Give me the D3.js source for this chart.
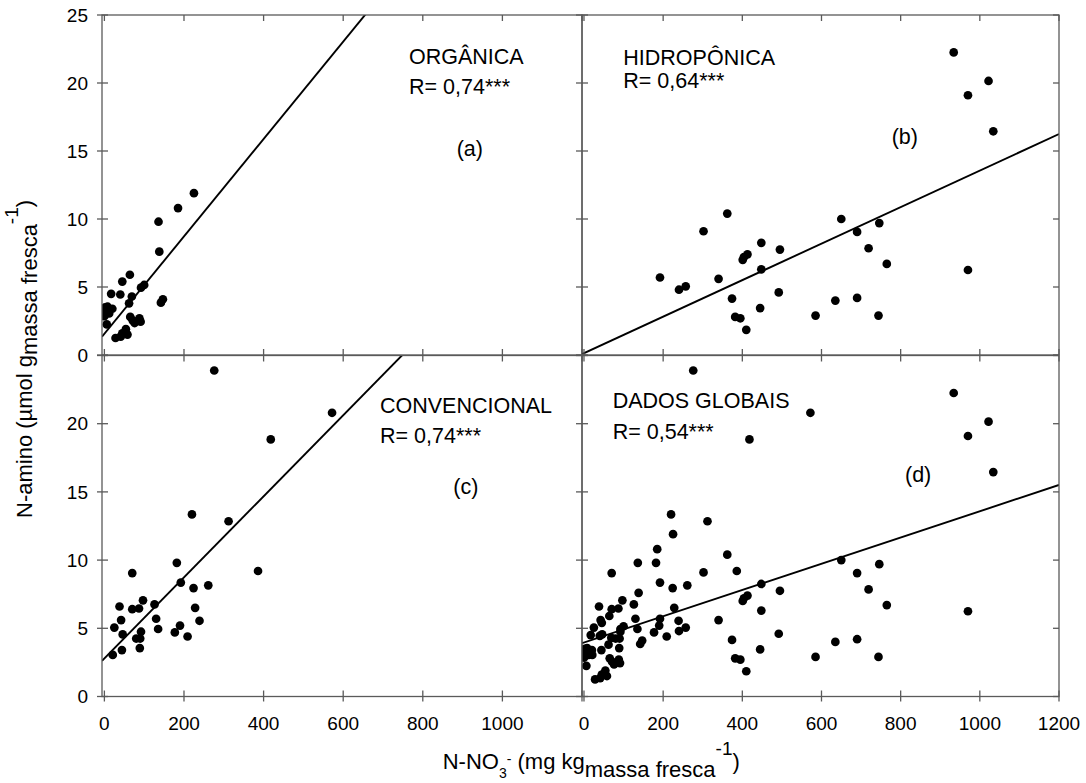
<!DOCTYPE html>
<html>
<head>
<meta charset="utf-8">
<script src="https://cdn.jsdelivr.net/npm/d3@7"></script>
<style>
    body { margin: 0; background: #fff; }
    text { font-family: "Liberation Sans", Arial, sans-serif; fill: #000; }
</style>
</head>
<body>
<svg id="chart" width="1086" height="783"></svg>
<script>
// data: [N-NO3, N-amino]
const organica = [
    [225, 11.9], [185, 10.8], [136, 9.8], [138, 7.6], [64, 5.9], [45, 5.4], [100, 5.15], [92, 4.95],
    [17, 4.5], [40, 4.45], [69, 4.3], [62, 3.8], [147, 4.1], [142, 3.85], [8, 3.55], [20, 3.4],
    [3, 3.2], [12, 3.05], [0, 2.85], [6, 2.25], [65, 2.8], [71, 2.55], [88, 2.7], [91, 2.45],
    [76, 2.35], [54, 1.9], [45, 1.6], [28, 1.25], [41, 1.35], [58, 1.5], [10, 3.35], [2, 3.5]
];
const hidroponica = [
    [934, 22.25], [1022, 20.15], [970, 19.1], [1034, 16.45], [362, 10.4], [650, 10.0], [746, 9.7], [302, 9.1],
    [690, 9.05], [448, 8.25], [719, 7.85], [495, 7.75], [413, 7.4], [404, 7.2], [401, 7.0], [765, 6.7],
    [448, 6.3], [970, 6.25], [192, 5.7], [340, 5.6], [257, 5.05], [240, 4.8], [492, 4.6], [374, 4.15],
    [635, 4.0], [690, 4.2], [445, 3.45], [585, 2.9], [744, 2.9], [382, 2.8], [395, 2.7], [410, 1.85]
];
const convencional = [
    [276, 23.9], [572, 20.8], [418, 18.85], [220, 13.35], [312, 12.85], [182, 9.8], [70, 9.05], [386, 9.2],
    [192, 8.35], [261, 8.15], [224, 7.95], [97, 7.05], [126, 6.75], [38, 6.6], [70, 6.4], [87, 6.45],
    [228, 6.5], [42, 5.6], [130, 5.7], [239, 5.55], [25, 5.05], [135, 4.95], [190, 5.2], [46, 4.55],
    [92, 4.75], [177, 4.7], [209, 4.4], [80, 4.25], [90, 4.25], [44, 3.4], [89, 3.55], [21, 3.05]
];
// global panel = all samples together
const globais = organica.concat(hidroponica, convencional);

const panelNames = ['ORGÂNICA', 'HIDROPÔNICA', 'CONVENCIONAL', 'DADOS GLOBAIS'];
const rTexts = ['R= 0,74***', 'R= 0,64***', 'R= 0,74***', 'R= 0,54***'];
const panelTags = ['(a)', '(b)', '(c)', '(d)'];
// linear fits y = a + b*x
const fitIntercept = [1.56, 0.13, 2.8, 3.96];
const fitSlope = [0.0358, 0.01343, 0.0297, 0.00962];

const yTicks = [0, 5, 10, 15, 20, 25];
const xTicks = [0, 200, 400, 600, 800, 1000, 1200];

// layout of the 4 panels
const panels = [
    { data: organica, left: 102, right: 582, top: 15, bottom: 355, xmin: -6,
      name: [409, 64.3], r: [409, 94], tag: [456.7, 156], col: 0, row: 0 },
    { data: hidroponica, left: 582, right: 1059, top: 15, bottom: 355, xmin: -5,
      name: [623.3, 65], r: [623.3, 88.3], tag: [891.7, 143.5], col: 1, row: 0 },
    { data: convencional, left: 102, right: 582, top: 355.5, bottom: 696.5, xmin: -6,
      name: [380, 413.3], r: [380, 443.3], tag: [453.3, 493.5], col: 0, row: 1 },
    { data: globais, left: 582, right: 1059, top: 355.5, bottom: 696.5, xmin: -5,
      name: [612.7, 408.3], r: [612.7, 439.3], tag: [905, 482], col: 1, row: 1 }
];

const svg = d3.select('#chart');
const axisColor = '#5a5a5a';
const tickIn = 6, tickOut = 5;

panels.forEach((p, i) => {
    const x = d3.scaleLinear().domain([p.xmin, 1200]).range([p.left, p.right]);
    const y = d3.scaleLinear().domain([0, 25]).range([p.bottom, p.top]);

    const clipId = 'clip' + i;
    svg.append('clipPath').attr('id', clipId)
        .append('rect')
        .attr('x', p.left).attr('y', p.top)
        .attr('width', p.right - p.left).attr('height', p.bottom - p.top);

    const g = svg.append('g');

    // regression line
    const line = d3.line()
        .x(d => x(d))
        .y(d => y(fitIntercept[i] + fitSlope[i] * d));
    g.append('path')
        .datum([p.xmin, 1200])
        .attr('clip-path', `url(#${clipId})`)
        .attr('fill', 'none')
        .attr('stroke', '#000')
        .attr('stroke-width', 1.9)
        .attr('d', line);

    // points
    g.append('g')
        .attr('clip-path', `url(#${clipId})`)
        .selectAll('circle')
        .data(p.data)
        .join('circle')
        .attr('cx', d => x(d[0]))
        .attr('cy', d => y(d[1]))
        .attr('r', 4.35)
        .attr('fill', '#000');

    // frame
    g.append('rect')
        .attr('x', p.left).attr('y', p.top)
        .attr('width', p.right - p.left).attr('height', p.bottom - p.top)
        .attr('fill', 'none')
        .attr('stroke', axisColor)
        .attr('stroke-width', 1.3);

    // ticks on all four sides
    const ticks = g.append('g').attr('stroke', axisColor).attr('stroke-width', 1.3);
    xTicks.forEach(t => {
        const xx = x(t);
        ticks.append('line').attr('x1', xx).attr('x2', xx)
            .attr('y1', p.top).attr('y2', p.top + tickIn);
        ticks.append('line').attr('x1', xx).attr('x2', xx)
            .attr('y1', p.bottom - tickIn).attr('y2', p.bottom + (p.row === 1 ? tickOut : 0));
    });
    yTicks.forEach(t => {
        const yy = y(t);
        ticks.append('line').attr('y1', yy).attr('y2', yy)
            .attr('x1', p.left - (p.col === 0 ? tickOut : 0)).attr('x2', p.left + tickIn);
        ticks.append('line').attr('y1', yy).attr('y2', yy)
            .attr('x1', p.right - tickIn).attr('x2', p.right);
    });

    // tick labels
    if (p.col === 0) {
        const yLabels = p.row === 0 ? yTicks : yTicks.filter(t => t < 25);
        g.selectAll('.ylab')
            .data(yLabels)
            .join('text')
            .attr('x', 88)
            .attr('y', d => y(d))
            .attr('dy', '0.35em')
            .attr('text-anchor', 'end')
            .attr('font-size', 19)
            .text(d => d);
    }
    if (p.row === 1) {
        const xLabels = p.col === 0 ? xTicks.filter(t => t < 1200) : xTicks;
        g.selectAll('.xlab')
            .data(xLabels)
            .join('text')
            .attr('x', d => x(d))
            .attr('y', 730)
            .attr('text-anchor', 'middle')
            .attr('font-size', 19)
            .text(d => d);
    }

    // panel annotations
    g.append('text').attr('x', p.name[0]).attr('y', p.name[1])
        .attr('font-size', 21.5).text(panelNames[i]);
    g.append('text').attr('x', p.r[0]).attr('y', p.r[1])
        .attr('font-size', 21.5).text(rTexts[i]);
    g.append('text').attr('x', p.tag[0]).attr('y', p.tag[1])
        .attr('font-size', 21.5).text(panelTags[i]);
});

// x axis title
const xt = svg.append('text')
    .attr('x', 442.7)
    .attr('y', 769.3)
    .attr('font-size', 22);
xt.append('tspan').text('N-NO');
xt.append('tspan').attr('font-size', 14).attr('dy', 9).text('3');
xt.append('tspan').attr('font-size', 14).attr('dy', -14).text('-');
xt.append('tspan').attr('dy', 5).text(' (mg kg');
xt.append('tspan').attr('dy', 7.4).text('massa fresca');
xt.append('tspan').attr('font-size', 19).attr('dy', -21.4).text('-1');
xt.append('tspan').attr('dy', 14).text(')');

// y axis title
const yt = svg.append('text')
    .attr('transform', 'translate(31.7,518) rotate(-90)')
    .attr('font-size', 22);
yt.append('tspan').text('N-amino (µmol g');
yt.append('tspan').attr('dy', 5.5).text('massa fresca');
yt.append('tspan').attr('font-size', 19).attr('dy', -19).text('-1');
yt.append('tspan').attr('dy', 13.5).text(')');
</script>
</body>
</html>
